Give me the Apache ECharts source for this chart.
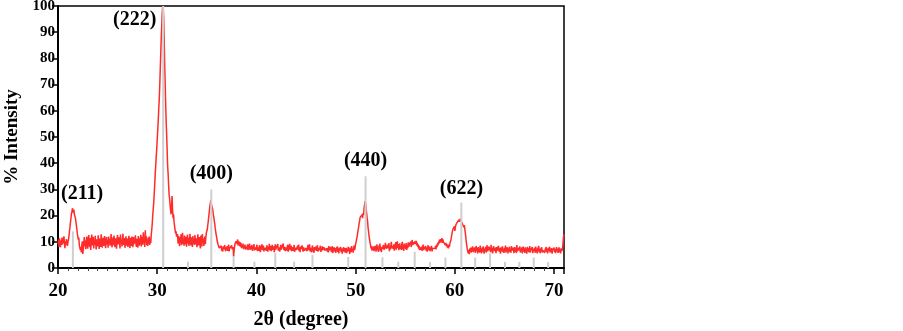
<!DOCTYPE html>
<html><head><meta charset="utf-8">
<script src="https://cdn.jsdelivr.net/npm/echarts@6/dist/echarts.min.js"></script>
<style>html,body{margin:0;padding:0;background:#fff}#c{width:903px;height:331px}</style>
</head><body><div id="c"></div>
<script>
// 2θ grid of the scan: start and step (degrees)
const twoThetaStart = 20.0;
const twoThetaStep = 0.05;
// % intensity, one row per degree (x.00 … x.95)
const intensity = [
 9.2,10.8,8.1,11.3,9.6,7.9,10.5,8.8,11.6,9.0,8.3,10.9,12.1,9.4,7.6,10.2,8.9,11.0,9.7,8.4,
 9.8,10.6,12.0,13.9,15.4,17.2,18.8,20.6,21.4,22.8,22.0,21.1,22.3,20.4,21.0,19.2,18.5,16.4,15.8,13.1,
 12.9,10.8,11.6,8.7,9.3,6.8,8.0,5.9,8.6,10.2,5.4,7.1,9.6,11.8,8.3,10.6,7.2,9.9,12.0,8.5,
 7.4,10.9,12.6,9.1,8.0,11.4,6.9,10.1,12.8,8.6,9.7,11.9,7.5,10.4,8.8,12.3,9.2,7.1,11.0,9.8,
 8.2,12.5,10.0,7.3,11.2,9.4,8.1,12.9,10.6,7.8,9.9,11.5,8.4,10.8,12.2,9.0,7.6,10.3,11.8,8.9,
 10.7,7.7,12.0,9.3,11.1,8.5,10.0,13.0,9.5,7.9,11.6,8.7,10.4,12.4,9.1,8.0,11.3,9.8,7.4,10.9,
 12.6,9.0,8.3,11.7,10.2,7.5,12.8,9.6,11.0,8.2,10.5,13.1,8.8,9.9,11.4,7.7,10.1,12.1,8.6,9.4,
 11.2,8.0,10.7,12.3,9.2,7.6,11.5,9.9,8.4,12.0,10.3,7.9,11.8,9.0,8.7,10.6,12.5,9.5,8.1,11.1,
 9.7,7.8,12.2,10.0,8.5,11.3,9.1,12.7,8.2,10.4,11.9,8.9,13.6,9.4,11.0,8.0,14.4,9.8,12.1,8.7,
 10.9,8.4,11.6,9.2,12.0,8.8,10.5,9.6,12.8,14.6,17.0,20.2,22.5,25.0,28.5,32.0,36.0,39.0,42.5,45.5,
 49.0,52.5,56.0,60.5,64.0,69.0,75.0,81.0,87.0,92.0,97.0,100.0,99.0,96.0,88.0,78.0,71.0,63.0,56.0,51.0,
 45.0,39.0,36.0,31.5,28.0,26.5,24.0,22.0,20.5,24.0,27.5,22.0,19.0,20.5,17.5,16.0,15.5,13.2,14.0,12.0,
 11.5,13.0,9.4,12.2,10.1,8.3,11.8,9.6,12.9,8.7,10.8,13.4,9.2,11.1,8.5,12.4,10.0,9.0,11.9,8.1,
 10.6,12.8,9.3,11.5,8.4,10.2,13.1,9.8,8.6,11.7,10.4,8.0,12.2,9.5,11.0,8.8,12.6,10.1,9.0,11.3,
 7.9,10.7,12.9,8.6,10.0,11.8,9.2,7.5,12.4,10.3,8.2,13.0,9.7,11.2,8.4,10.9,12.0,9.1,11.6,13.4,
 13.0,14.8,16.5,18.0,19.8,21.5,23.4,24.6,26.0,24.5,25.2,23.0,22.2,20.5,19.6,18.0,16.8,15.0,13.8,12.5,
 11.6,10.2,9.5,8.8,9.0,7.6,8.2,6.9,7.4,8.5,6.6,7.8,6.2,8.3,7.1,6.8,8.7,7.3,6.4,7.9,
 7.0,8.4,6.5,7.7,8.9,6.3,7.5,8.1,6.9,7.6,8.6,7.2,6.7,8.0,4.3,6.6,8.2,9.4,8.8,10.2,
 10.6,9.2,10.9,8.6,10.3,9.7,8.4,9.9,8.1,9.5,7.6,8.8,7.9,9.3,7.2,8.5,7.7,8.9,7.0,8.2,
 8.6,7.3,9.0,6.8,8.1,7.6,9.3,6.9,8.4,7.1,7.9,8.8,6.5,8.2,7.4,9.1,6.7,7.8,8.5,7.0,
 7.6,8.9,6.4,7.9,8.3,6.6,8.7,7.2,6.1,8.0,7.5,9.0,6.8,7.3,8.6,6.3,7.7,8.4,6.9,7.8,
 6.5,8.7,7.4,6.2,8.1,7.0,9.2,6.7,7.6,8.5,6.4,7.9,8.8,6.9,7.2,8.3,6.0,7.7,9.0,7.1,
 6.8,8.2,7.5,9.1,6.6,7.9,8.6,6.3,7.4,8.8,7.0,6.5,8.4,7.7,9.3,6.9,7.2,8.1,6.4,7.8,
 8.5,6.7,7.3,8.9,6.2,7.6,8.0,9.2,6.8,7.1,8.6,6.4,7.9,8.3,6.6,7.5,8.8,6.1,7.7,8.2,
 6.9,7.4,6.3,8.5,7.0,8.9,6.5,7.8,6.0,8.2,7.2,6.7,8.6,7.5,6.2,7.9,8.4,6.6,7.1,5.9,
 7.6,8.3,6.4,7.0,8.8,6.8,7.4,9.0,6.3,7.7,8.1,6.0,7.5,8.6,6.7,7.2,5.8,8.0,6.9,7.3,
 8.2,6.5,7.1,8.7,6.2,7.6,8.0,6.8,7.3,8.5,6.1,7.8,6.6,8.3,7.0,6.4,7.9,8.6,6.7,7.2,
 6.0,7.5,8.1,6.3,7.7,5.9,8.4,6.8,7.2,6.5,8.0,6.1,7.4,8.3,5.7,7.0,6.6,7.9,6.2,7.6,
 5.8,7.3,6.9,8.2,6.1,7.5,5.6,7.8,6.7,7.1,8.0,6.0,7.4,5.5,7.0,6.4,7.9,6.2,7.6,5.9,
 6.8,7.7,5.7,7.2,6.3,8.1,6.6,7.4,5.4,7.8,6.9,6.0,8.4,6.5,7.3,5.9,7.6,8.6,6.8,8.0,
 9.2,10.0,11.2,12.0,13.3,14.5,15.6,16.9,18.0,19.3,18.6,20.0,19.2,20.4,19.0,21.0,20.2,22.8,23.5,25.5,
 24.6,23.0,21.2,19.4,18.0,15.5,14.0,12.2,11.0,9.6,8.8,7.5,8.4,6.6,7.9,6.9,8.3,6.4,7.6,7.0,
 8.5,6.2,7.4,9.0,6.8,7.7,6.1,8.6,7.2,9.3,6.5,7.9,6.0,8.1,7.3,6.6,8.8,7.0,6.3,7.8,
 9.6,10.3,7.4,8.0,6.7,8.9,7.5,9.5,6.4,8.2,7.1,8.7,10.0,7.6,6.9,8.4,7.2,9.0,6.6,7.9,
 8.3,9.9,7.0,8.6,10.2,7.7,9.1,6.8,8.0,9.4,7.3,8.5,6.9,9.0,10.0,7.5,8.2,6.6,9.3,7.8,
 8.8,7.2,9.5,6.9,8.4,7.6,9.8,8.1,7.4,9.2,8.6,10.1,8.0,9.4,10.7,8.7,9.9,10.5,9.1,10.2,
 10.8,9.3,10.4,8.6,9.7,8.1,9.0,7.4,8.5,6.8,7.9,8.6,7.0,8.2,6.5,7.7,8.9,6.9,7.5,6.7,
 7.3,8.4,6.6,7.9,6.2,7.6,8.7,6.8,7.1,8.2,6.4,7.7,6.9,8.5,6.3,7.4,8.0,6.7,7.8,7.0,
 7.5,8.3,7.1,8.8,8.0,9.4,8.6,10.1,9.3,10.8,9.7,11.0,9.8,10.5,11.4,9.6,10.9,9.9,10.4,9.2,
 10.2,8.7,9.6,8.3,9.1,7.8,8.6,7.5,8.9,8.1,9.4,10.0,10.7,11.8,12.9,13.6,14.8,15.4,14.6,15.9,
 14.2,15.6,16.4,15.8,17.2,16.6,17.8,17.0,18.4,17.6,18.0,18.8,19.4,18.2,17.4,18.0,16.5,17.2,15.6,16.4,
 15.0,13.6,11.8,10.0,8.6,7.2,6.4,5.6,6.9,5.3,7.4,6.1,7.8,5.9,7.0,6.4,8.2,6.0,7.5,6.6,
 7.9,5.8,7.1,8.4,6.3,7.6,5.6,8.0,6.8,7.3,5.9,8.6,6.5,7.0,5.7,7.8,6.2,8.3,6.9,5.5,
 7.4,6.6,8.1,5.9,7.2,8.7,6.4,7.0,5.8,8.2,6.7,7.5,6.0,8.9,6.3,7.7,5.6,7.1,8.4,6.5,
 6.1,7.8,6.9,5.7,8.0,6.6,7.3,5.9,8.5,6.2,7.6,6.8,5.5,7.9,6.4,7.2,8.3,6.0,7.0,5.8,
 7.7,6.3,8.6,5.9,7.1,6.7,7.9,5.6,7.4,6.5,8.1,6.0,7.2,5.8,8.4,6.6,7.0,6.2,7.8,5.7,
 6.9,8.0,6.1,7.5,5.7,8.8,6.4,7.1,6.0,7.7,6.7,8.3,5.9,7.3,6.5,7.9,5.6,7.0,8.2,6.2,
 7.4,5.8,7.9,6.6,7.1,5.5,8.1,6.3,7.6,6.0,7.2,8.4,5.9,6.8,7.5,6.1,8.0,5.7,7.3,6.4,
 6.9,7.7,5.8,8.2,6.2,7.0,5.6,7.8,6.5,8.5,6.0,7.3,5.7,7.1,6.6,7.9,5.9,6.8,7.4,6.1,
 7.5,5.8,7.0,6.4,8.0,6.1,7.2,5.6,7.7,6.5,6.9,8.1,5.9,7.3,6.2,7.6,5.5,6.8,7.1,6.3,
 7.8,6.0,7.2,5.7,6.9,8.0,6.3,7.4,5.8,6.6,7.9,6.1,7.0,5.6,7.5,6.4,6.8,7.2,9.5,11.8,
 12.8
];
// Standard reference pattern (grey sticks)
const stickPos = [21.5,30.6,33.1,35.45,37.7,39.8,41.9,43.8,45.65,49.25,51.0,52.7,54.3,55.95,57.5,59.05,60.65,62.05,63.55,65.05,66.5,67.95,69.4];
const stickHeight = [14,100,2.4,30,4.5,2.4,5.8,2.4,5,4.2,35,4.1,2.4,6.2,2.3,4,25,4,5.6,2.3,2.3,4,2.3];
// Peak (hkl) annotations
const peakNames = ['(211)','(222)','(400)','(440)','(622)'];
const peakLabelX = [22.43,27.73,35.45,51.0,60.66];
const peakLabelY = [28.2,94.6,36.1,40.8,30.4];
const xTicks = [20,30,40,50,60,70];

const FONT = 'Liberation Serif';
const chart = echarts.init(document.getElementById('c'));
const lineData = intensity.map((v,i)=>[+(twoThetaStart + i*twoThetaStep).toFixed(2), v]);
chart.setOption({
  animation:false,
  backgroundColor:'#fff',
  grid:{left:58,right:339,top:6,bottom:63,containLabel:false,outerBoundsMode:'none',
        show:true,borderColor:'#000',borderWidth:1.5,backgroundColor:'transparent'},
  xAxis:{type:'value',min:20,max:71,interval:10,
    name:'2θ (degree)',nameLocation:'middle',nameGap:42,
    nameTextStyle:{fontFamily:FONT,fontWeight:'bold',fontSize:20,color:'#000',padding:[0,20,0,0]},
    axisLine:{lineStyle:{color:'#000',width:2}},
    axisTick:{show:true,length:6,lineStyle:{color:'#000',width:1.5}},
    minorTick:{show:true,splitNumber:10,length:3,lineStyle:{color:'#444',width:1}},
    splitLine:{show:false},
    axisLabel:{showMaxLabel:false,margin:14,fontFamily:FONT,fontWeight:'bold',fontSize:19,color:'#000',
      formatter:v=> xTicks.indexOf(v)>=0 ? String(v) : ''}
  },
  yAxis:{type:'value',min:0,max:100,interval:10,
    name:'% Intensity',nameLocation:'middle',nameGap:29,
    nameTextStyle:{fontFamily:FONT,fontWeight:'bold',fontSize:19,color:'#000'},
    axisLine:{show:true,lineStyle:{color:'#000',width:2}},
    axisTick:{show:true,length:6,lineStyle:{color:'#000',width:1.5}},
    splitLine:{show:false},
    axisLabel:{margin:3,fontFamily:FONT,fontWeight:'bold',fontSize:15,color:'#000'}
  },
  series:[
    {type:'line',data:lineData,showSymbol:false,symbol:'none',z:2,
     lineStyle:{color:'#ff2b2b',width:1.5},emphasis:{disabled:true}},
    {type:'bar',data:stickPos.map((x,i)=>[x,stickHeight[i]]),barWidth:2,z:3,
     itemStyle:{color:'#cfcfcf'},emphasis:{disabled:true}},
    {type:'scatter',symbolSize:0,z:4,itemStyle:{opacity:1},
     data:peakNames.map((n,i)=>({name:n,value:[peakLabelX[i],peakLabelY[i]]})),
     label:{show:true,position:'inside',opacity:1,formatter:p=>p.name,fontFamily:FONT,fontWeight:'bold',fontSize:20,color:'#000'}}
  ]
});
</script></body></html>
